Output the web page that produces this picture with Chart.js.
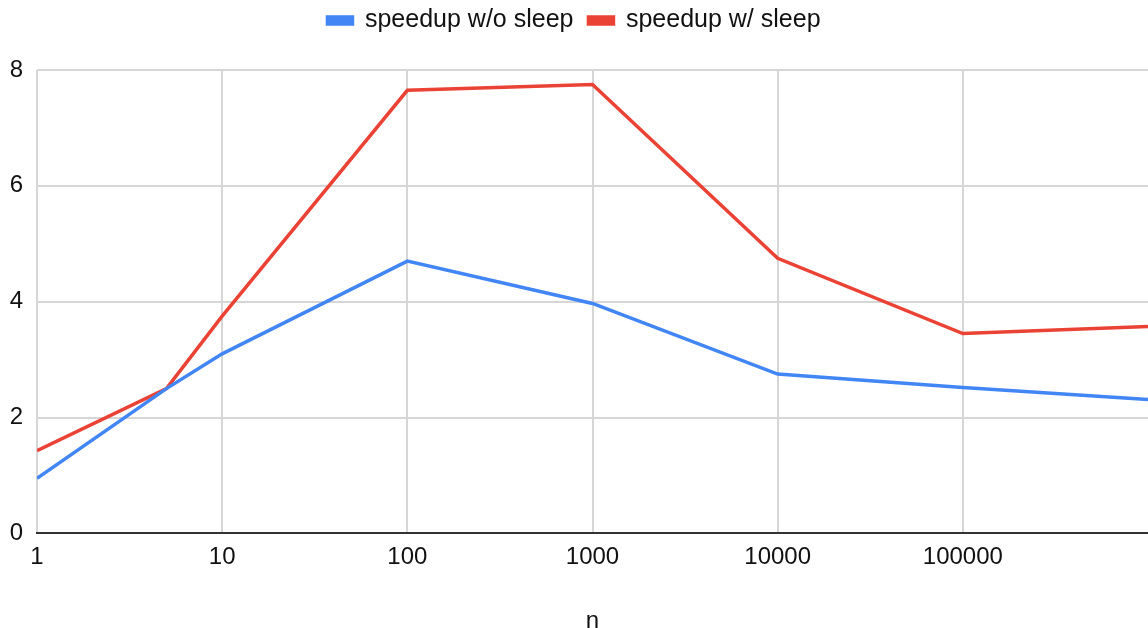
<!DOCTYPE html>
<html>
<head>
<meta charset="utf-8">
<script src="https://cdn.jsdelivr.net/npm/chart.js@4.4.1/dist/chart.umd.min.js"></script>
<style>
  html, body { margin: 0; padding: 0; background: #fff; overflow: hidden; }
  #wrap { width: 1148px; height: 628px; position: relative; }
</style>
</head>
<body>
<div id="wrap"><canvas id="grafico"></canvas></div>
<script>
const nValues = [1, 5, 10, 100, 1000, 10000, 100000, 1000000]
const speedupNoSleep = [0.95, 2.5, 3.1, 4.7, 3.97, 2.75, 2.52, 2.31]
const speedupSleep = [1.43, 2.5, 3.75, 7.65, 7.75, 4.75, 3.45, 3.57]
const xTicks = [1, 10, 100, 1000, 10000, 100000]
const yTicks = [0, 2, 4, 6, 8]

const toPoints = (ys) => nValues.map((n, i) => ({ x: n, y: ys[i] }))

Chart.defaults.font.family = '"Liberation Sans", Arial, sans-serif'
Chart.defaults.font.size = 24
Chart.defaults.color = '#111'

// push the plot down below the legend
const legendGap = {
    id: 'legendGap',
    beforeInit(chart) {
        const fit = chart.legend.fit
        chart.legend.fit = function () {
            fit.bind(chart.legend)()
            this.height += 27
        }
    }
}

var grf = document.getElementById('grafico').getContext('2d')

var data = {
    datasets: [{
        label: 'speedup w/o sleep',
        data: toPoints(speedupNoSleep),
        borderColor: '#4285F4',
        backgroundColor: '#4285F4'
    }, {
        label: 'speedup w/ sleep',
        data: toPoints(speedupSleep),
        borderColor: '#EA4335',
        backgroundColor: '#EA4335'
    }]
}

var options = {
    responsive: true,
    maintainAspectRatio: false,
    animation: false,
    layout: { padding: { top: -7, bottom: -8, left: 0, right: 0 } },
    elements: {
        line: { borderWidth: 3.5, tension: 0 },
        point: { radius: 0 }
    },
    plugins: {
        tooltip: { enabled: false },
        legend: {
            position: 'top',
            labels: {
                boxWidth: 25,
                boxHeight: 7,
                padding: 15,
                font: { size: 25 }
            }
        }
    },
    scales: {
        x: {
            type: 'logarithmic',
            min: 1,
            max: 1000000,
            afterBuildTicks: (scale) => { scale.ticks = xTicks.map(v => ({ value: v })) },
            ticks: {
                padding: 10,
                maxRotation: 0,
                autoSkip: false,
                callback: (v) => String(v)
            },
            grid: { color: '#d6d6d6', lineWidth: 2, drawTicks: false },
            border: { color: '#333', width: 2 },
            title: { display: true, text: 'n', font: { size: 24 }, padding: { top: 25, bottom: 0 } }
        },
        y: {
            min: 0,
            max: 8,
            afterBuildTicks: (scale) => { scale.ticks = yTicks.map(v => ({ value: v })) },
            afterFit: (scale) => { scale.width = 37 },
            ticks: { padding: 14 },
            grid: { color: '#d6d6d6', lineWidth: 2, drawTicks: false },
            border: { display: false }
        }
    }
}

var myChart = new Chart(grf, {
    type: 'line',
    data: data,
    options: options,
    plugins: [legendGap]
})
</script>
</body>
</html>
